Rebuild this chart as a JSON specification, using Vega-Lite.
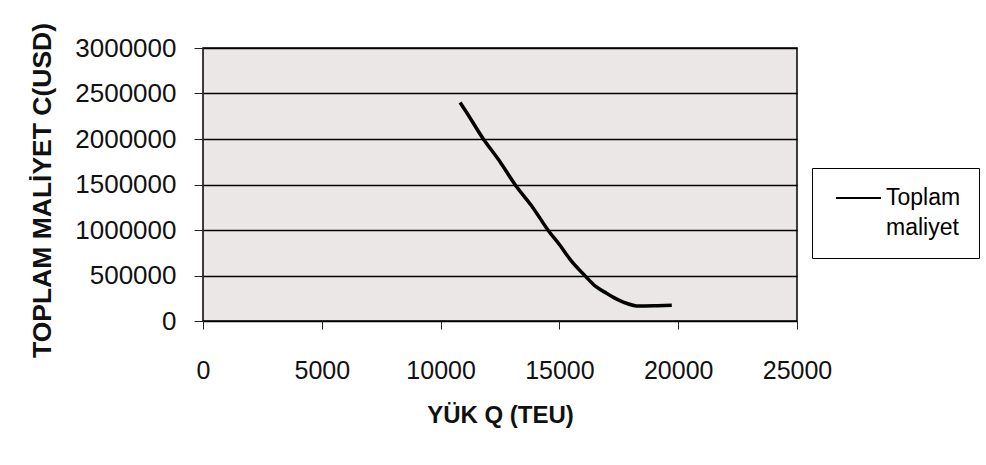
{
  "$schema": "https://vega.github.io/schema/vega-lite/v6.json",
  "width": 594,
  "height": 273,
  "autosize": {"type": "none"},
  "padding": {"left": 203, "top": 48, "right": 189, "bottom": 144},
  "background": "white",
  "config": {
    "font": "Liberation Sans",
    "view": {"stroke": "black", "strokeWidth": 1.5, "fill": "#ebe7e7"},
    "axis": {"domain": false, "labelColor": "#111", "titleColor": "#111", "tickColor": "#222"}
  },
  "data": {
    "values": [
      {"q": 10820, "c": 2400000, "s": "Toplam maliyet"},
      {"q": 11000, "c": 2330000, "s": "Toplam maliyet"},
      {"q": 11800, "c": 2000000, "s": "Toplam maliyet"},
      {"q": 12500, "c": 1750000, "s": "Toplam maliyet"},
      {"q": 13130, "c": 1500000, "s": "Toplam maliyet"},
      {"q": 13900, "c": 1240000, "s": "Toplam maliyet"},
      {"q": 14530, "c": 995000, "s": "Toplam maliyet"},
      {"q": 15000, "c": 840000, "s": "Toplam maliyet"},
      {"q": 15500, "c": 660000, "s": "Toplam maliyet"},
      {"q": 16080, "c": 496000, "s": "Toplam maliyet"},
      {"q": 16500, "c": 385000, "s": "Toplam maliyet"},
      {"q": 17000, "c": 303000, "s": "Toplam maliyet"},
      {"q": 17500, "c": 230000, "s": "Toplam maliyet"},
      {"q": 17850, "c": 192000, "s": "Toplam maliyet"},
      {"q": 18250, "c": 166000, "s": "Toplam maliyet"},
      {"q": 19000, "c": 168000, "s": "Toplam maliyet"},
      {"q": 19730, "c": 172000, "s": "Toplam maliyet"}
    ]
  },
  "mark": {"type": "line", "strokeWidth": 3.5, "interpolate": "monotone"},
  "encoding": {
    "x": {
      "field": "q", "type": "quantitative",
      "scale": {"domain": [0, 25000], "nice": false},
      "axis": {
        "title": "YÜK Q (TEU)", "values": [0, 5000, 10000, 15000, 20000, 25000],
        "grid": false, "tickSize": 8, "labelPadding": 29, "labelFontSize": 25,
        "labelFlush": false, "titleFontSize": 24, "titleFontWeight": "bold", "titlePadding": 20,
        "format": "d"
      }
    },
    "y": {
      "field": "c", "type": "quantitative",
      "scale": {"domain": [0, 3000000], "nice": false},
      "axis": {
        "title": "TOPLAM MALİYET C(USD)", "values": [0, 500000, 1000000, 1500000, 2000000, 2500000, 3000000],
        "grid": true, "gridColor": "black", "gridWidth": 1.5, "gridOpacity": 1,
        "tickSize": 9, "labelPadding": 18, "labelFontSize": 26, "labelFlush": false,
        "titleFontSize": 26.5, "titleFontWeight": "bold", "titlePadding": 18, "titleY": 142,
        "format": "d"
      }
    },
    "color": {
      "field": "s", "type": "nominal",
      "scale": {"range": ["black"]},
      "legend": {
        "title": null, "orient": "none", "legendX": 609, "legendY": 120,
        "strokeColor": "black", "padding": 18, "fillColor": "white",
        "symbolType": "stroke", "symbolSize": 2025, "symbolStrokeWidth": 2, "symbolOffset": 5,
        "labelFontSize": 23, "labelOffset": 4, "labelLimit": 300,
        "labelExpr": "split(datum.label, ' ')",
        "encode": {
          "symbols": {"update": {"y": {"value": 12}}},
          "labels": {"update": {"y": {"value": 12}, "lineHeight": {"value": 30}}}
        }
      }
    }
  }
}
